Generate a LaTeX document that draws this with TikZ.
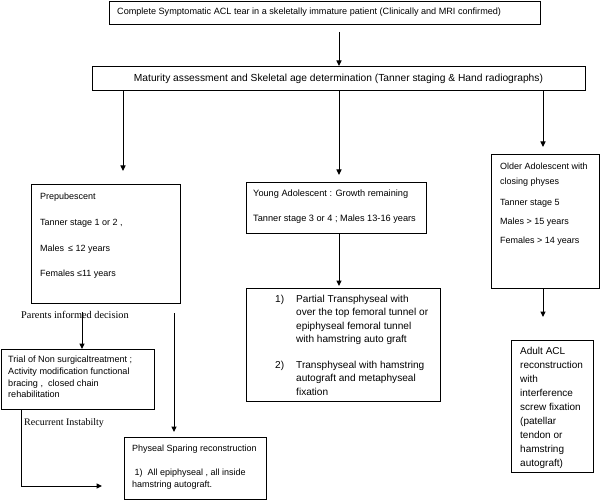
\documentclass[tikz,border=0pt]{standalone}
\usepackage{fontspec}
\setmainfont{Liberation Sans}
\newfontfamily\serifx{Liberation Serif}
\usetikzlibrary{arrows.meta}
\begin{document}
\begin{tikzpicture}[x=1pt,y=-1pt,
 box/.style={draw, line width=1pt, inner sep=0pt, anchor=north west},
 arr/.style={line width=1pt, -{Triangle[length=5.5pt,width=5pt]}},
 txt/.style={inner sep=0pt, anchor=north west, align=left},
 one/.style={inner sep=0pt, anchor=west},
]
\useasboundingbox (0,0) rectangle (600,500);
% boxes
\node[box, minimum width=431pt, minimum height=22.5pt] (b1) at (109,1.5) {};
\node[box, minimum width=493pt, minimum height=24pt] (b2) at (92,66) {};
\node[box, minimum width=149pt, minimum height=119pt] (pre) at (31,184) {};
\node[box, minimum width=180pt, minimum height=51pt] (young) at (246,182) {};
\node[box, minimum width=108pt, minimum height=134pt] (older) at (491,154) {};
\node[box, minimum width=194pt, minimum height=113pt] (res) at (246,288) {};
\node[box, minimum width=153pt, minimum height=60pt] (trial) at (1,349) {};
\node[box, minimum width=142pt, minimum height=62pt] (phys) at (124,437) {};
\node[box, minimum width=82pt, minimum height=132pt] (adult) at (511,340) {};
% texts
\node[one, font=\fontsize{9.1}{10}\selectfont] (t1) at (117,12.5)
 {Complete Symptomatic ACL tear in a skeletally immature patient (Clinically and MRI confirmed)};
\node[inner sep=0pt, font=\fontsize{10.25}{11}\selectfont] (t2) at (338.5,78.5)
 {Maturity assessment and Skeletal age determination (Tanner staging \& Hand radiographs)};
\node[txt, font=\fontsize{9}{25.7}\selectfont] (tpre) at (40,193)
 {Prepubescent\\Tanner stage 1 or 2 ,\\Males \,≤ 12 years\\Females ≤11 years};
\node[txt, font=\fontsize{9.2}{25}\selectfont] (tyoung) at (253,189.5)
 {Young Adolescent : Growth remaining\\Tanner stage 3 or 4 ; Males 13-16 years};
\node[txt, font=\fontsize{9}{15}\selectfont] (tolder) at (500,162.5)
 {Older Adolescent with\\closing physes\\[6pt]Tanner stage 5\\[4pt]Males {>} 15 years\\[4pt]Females {>} 14 years};
\node[txt, font=\fontsize{10.1}{13.3}\selectfont] (tnum) at (275,295)
 {1)\\[52.7pt]2)};
\node[txt, font=\fontsize{10.1}{13.3}\selectfont] (tres) at (296,295)
 {Partial Transphyseal with\\over the top femoral tunnel or\\epiphyseal femoral tunnel\\with hamstring auto graft\\[12.7pt]Transphyseal with hamstring\\autograft and metaphyseal\\fixation};
\node[txt, font=\fontsize{9.1}{11.7}\selectfont] (ttrial) at (8,356)
 {Trial of Non surgicaltreatment ;\\Activity modification functional\\bracing , \ closed chain\\rehabilitation};
\node[txt, font=\fontsize{9}{12}\selectfont] (tphys) at (132,445)
 {Physeal Sparing reconstruction\\[12pt]\ 1) \ All epiphyseal , all inside\\hamstring autograft.};
\node[txt, font=\fontsize{10}{14}\selectfont] (tadult) at (520,347)
 {Adult ACL\\reconstruction\\with\\interference\\screw fixation\\(patellar\\tendon or\\hamstring\\autograft)};
\node[one, font=\serifx\fontsize{10.3}{11}\selectfont] (parents) at (21,315)
 {Parents informed decision};
\node[one, font=\serifx\fontsize{10}{11}\selectfont] (recur) at (24,423)
 {Recurrent Instabilty};
% x positions
\coordinate (xm) at (339,0);
\coordinate (xl) at (123,0);
\coordinate (xr) at (543,0);
\coordinate (xp) at (82,0);
\coordinate (xs) at (174,0);
\coordinate (xt) at (21,0);
\coordinate (corner) at (21,486);
\coordinate (tipend) at (102,486);
% connectors
\draw[arr] ([yshift=-7pt]b1.south -| xm) -- (b2.north -| xm);
\draw[arr] (b2.south -| xl) -- ([yshift=13pt]pre.north -| xl);
\draw[arr] (b2.south -| xm) -- ([yshift=7pt]young.north -| xm);
\draw[arr] (b2.south -| xr) -- ([yshift=7pt]older.north -| xr);
\draw[arr] (young.south -| xm) -- ([yshift=2pt]res.north -| xm);
\draw[arr] (older.south -| xr) -- ([yshift=23pt]adult.north -| xr);
\draw[arr] ([yshift=-8pt]pre.south -| xp) -- (trial.north -| xp);
\draw[arr] ([yshift=-9pt]pre.south -| xs) -- ([yshift=5pt]phys.north -| xs);
\draw[arr] (trial.south -| xt) -- (corner) -- (tipend);
\end{tikzpicture}
\end{document}
